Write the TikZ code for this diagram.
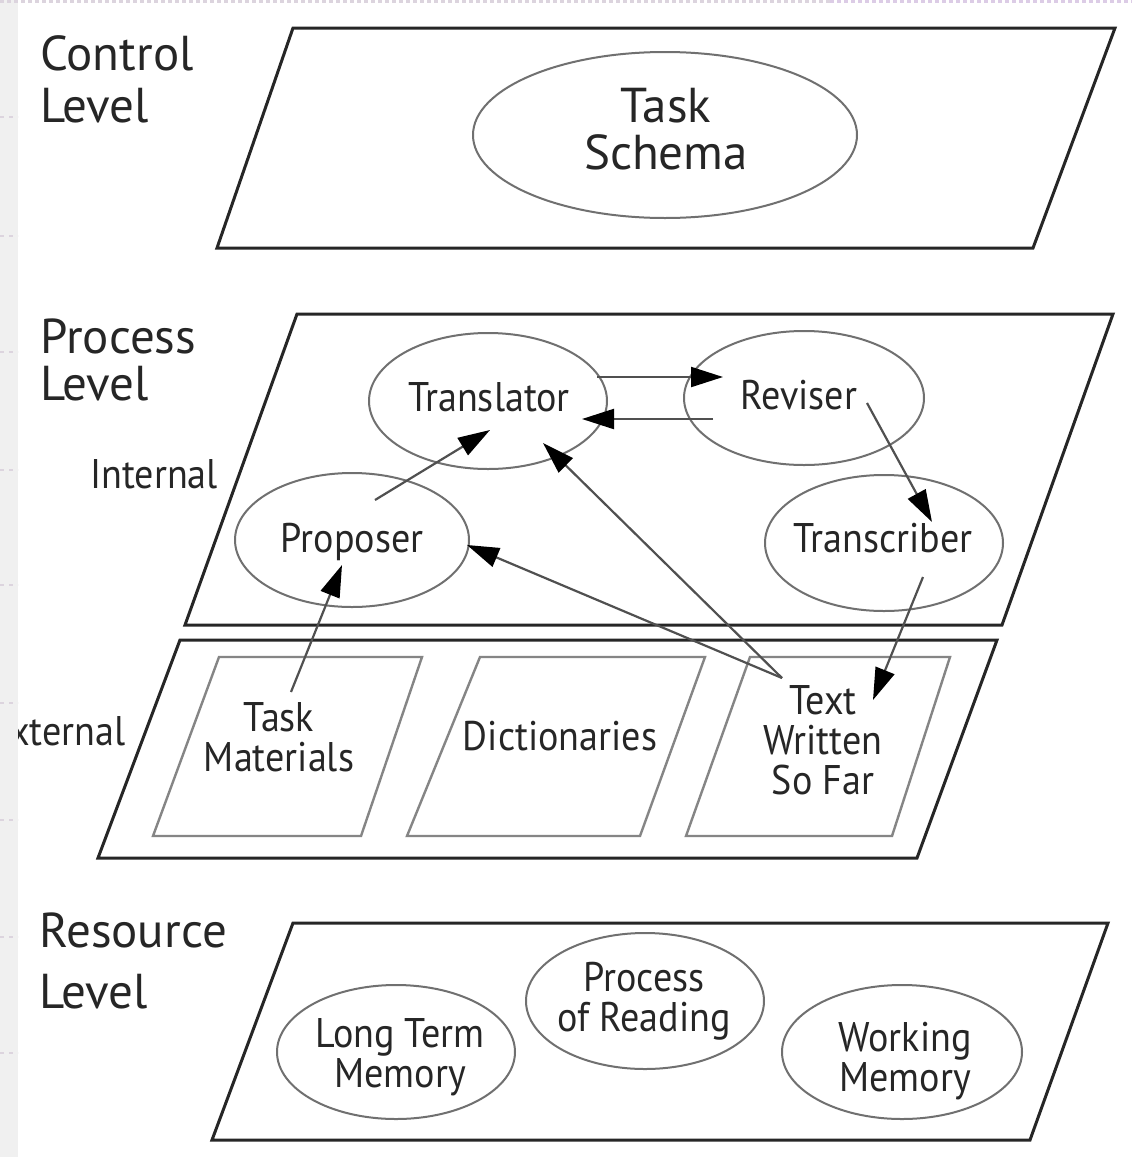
\documentclass[tikz,border=0pt]{standalone}
\usepackage{fontspec}
\setmainfont{PT Sans}[FakeStretch=0.92]
\newfontfamily\widefont{PT Sans}
\usetikzlibrary{shapes.geometric,arrows.meta}

\definecolor{ink}{HTML}{262626}
\definecolor{rim}{HTML}{707070}
\definecolor{wire}{HTML}{505050}
\definecolor{slabline}{HTML}{858585}
\definecolor{marginbg}{HTML}{F0F0F0}
\definecolor{tickgray}{HTML}{DCD4DE}
\definecolor{ticklav}{HTML}{DCCCE6}

\newcommand\medtext{\fontsize{20.7pt}{20pt}\selectfont}
\newcommand\bigtext{\widefont\fontsize{24.5pt}{23.5pt}\selectfont}

\begin{document}
\begin{tikzpicture}[x=0.5pt,y=-0.5pt,
  layer/.style={draw=ink, line width=1.5pt, line join=miter},
  slab/.style={draw=slabline, line width=1.2pt, line join=miter},
  oval/.style 2 args={ellipse, draw=rim, line width=1pt, inner sep=0pt,
    outer sep=0pt, minimum width=#1pt, minimum height=#2pt},
  lvl/.style={inner sep=0pt, font=\bigtext, text=ink, anchor=base west},
  side/.style={inner sep=0pt, font=\medtext, text=ink},
  % the node centre sits on the cap middle of the last line
  tag/.style={inner sep=0pt, font=\medtext, text=ink, align=center,
    text height=14.5pt, text depth=0pt},
  bigtag/.style={inner sep=0pt, font=\bigtext, text=ink, align=center,
    text height=17.2pt, text depth=0pt},
  conn/.style={draw=wire, line width=1.1pt,
    -{Triangle[length=16pt,width=10pt,color=black]}},
]
\useasboundingbox (0,0) rectangle (1132,1157);
\fill[white] (0,0) rectangle (1132,1157);

% ---- the four levels ----
\draw[layer] (217,248) -- (1033,248) -- (1115,28) -- (293,28) -- cycle;
\draw[layer] (185,625) -- (1002,625) -- (1113,314) -- (297,314) -- cycle;
\draw[layer] (98,858) -- (917,858) -- (997,640) -- (180,640) -- cycle;
\draw[layer] (212,1140) -- (1030,1140) -- (1108,923) -- (293,923) -- cycle;

% level captions
\node[lvl] (ctlA) at (40,70) {Control};
\node[lvl] (ctlB) at (40,122) {Level};
\node[lvl] (prcA) at (40,353) {Process};
\node[lvl] (prcB) at (40,400) {Level};
\node[lvl] (resA) at (39,947) {Resource};
\node[lvl] (resB) at (39,1008) {Level};
\node[side, anchor=base west] (intl) at (90,488) {Internal};
\node[side, anchor=base east] (extl) at (126,745) {External};

% ---- control level ----
\node[oval={192}{83}] (schema) at (665,135) {};
\node[bigtag] (schemaT) at (666,152) {Task\\Schema};

% ---- process level: internal ----
\node[oval={119}{68}] (transl) at (488,401) {};
\node[tag] (translT) at (489,397) {Translator};
\node[oval={120}{67}] (revis) at (804,398) {};
\node[tag] (revisT) at (799,395) {Reviser};
\node[oval={117}{67}] (propo) at (352,540) {};
\node[tag] (propoT) at (352,538) {Proposer};
\node[oval={119}{68}] (transc) at (884,543) {};
\node[tag] (transcT) at (883,538) {Transcriber};

% ---- process level: external ----
\draw[slab] (153,836) -- (361,836) -- (422,657) -- (219,657) -- cycle;
\draw[slab] (407,836) -- (640,836) -- (705,657) -- (480,657) -- cycle;
\draw[slab] (686,836) -- (892,836) -- (950,657) -- (750,657) -- cycle;
\node[tag] (taskmat) at (279,757) {Task\\Materials};
\node[tag] (dict) at (560,736) {Dictionaries};
\node[tag] (written) at (823,780) {Text\\Written\\So Far};

% ---- resource level ----
\node[oval={119}{67}] (ltm) at (396,1052) {};
\node[tag] (ltmT) at (400,1073) {Long Term\\Memory};
\node[oval={119}{68}] (reading) at (645,1001) {};
\node[tag] (readingT) at (644,1017) {Process\\of Reading};
\node[oval={120}{67}] (wm) at (902,1052) {};
\node[tag] (wmT) at (905,1077) {Working\\Memory};

% ---- connector end points ----
\coordinate (tmOut)  at (291,692);
\coordinate (prIn)   at (342,565);
\coordinate (prOut)  at (375,500);
\coordinate (trInA)  at (490,430);
\coordinate (trOut)  at (597,377);
\coordinate (rvIn)   at (723,377);
\coordinate (rvOutA) at (713,419);
\coordinate (trInB)  at (582,419);
\coordinate (rvOutB) at (867,403);
\coordinate (tcIn)   at (932,522);
\coordinate (tcOut)  at (923,577);
\coordinate (twIn)   at (873,700);
\coordinate (twOut)  at (782,678);
\coordinate (trInC)  at (543,443);
\coordinate (prInB)  at (467,545);

\draw[conn] (tmOut) -- (prIn);
\draw[conn] (prOut) -- (trInA);
\draw[conn] (trOut) -- (rvIn);
\draw[conn] (rvOutA) -- (trInB);
\draw[conn] (rvOutB) -- (tcIn);
\draw[conn] (tcOut) -- (twIn);
\draw[conn] (twOut) -- (trInC);
\draw[conn] (twOut) -- (prInB);

% ---- page margin strip and dotted rules ----
\fill[marginbg] (0,0) rectangle (18,1157);
\foreach \yy in {117,236,352,470,585,703,820,937,1053}
  \draw[tickgray, line width=1.2pt, dash pattern=on 2pt off 2.5pt] (0,\yy) -- (18,\yy);
\draw[tickgray, line width=1.5pt, dash pattern=on 2pt off 1.5pt] (0,1.5) -- (830,1.5);
\draw[ticklav, line width=1.5pt, dash pattern=on 2pt off 1.5pt] (830,1.5) -- (1132,1.5);
\end{tikzpicture}
\end{document}
